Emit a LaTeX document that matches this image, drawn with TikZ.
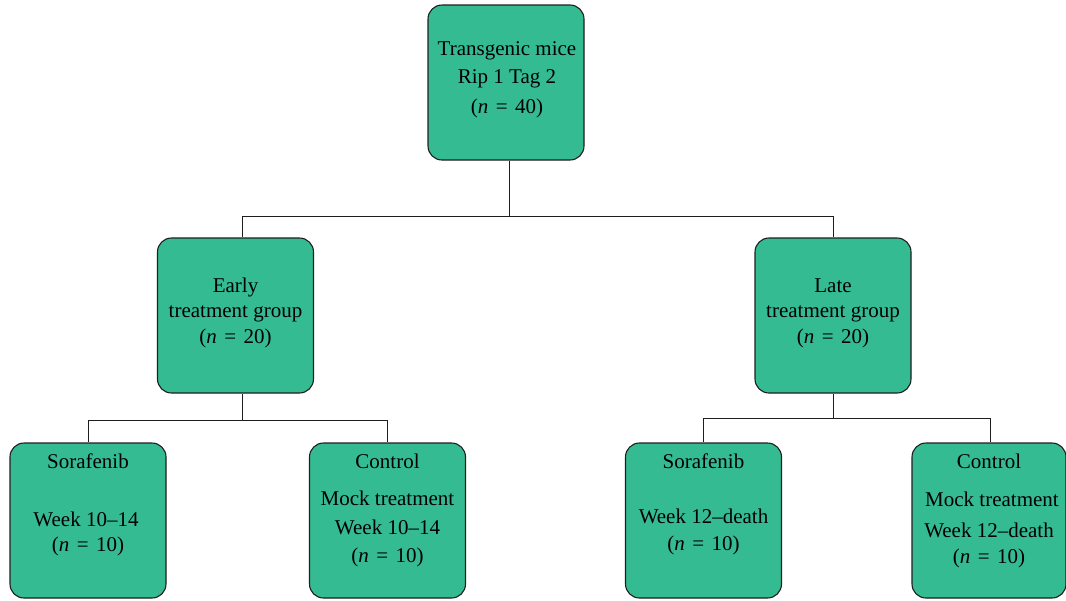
\documentclass[tikz,border=0pt]{standalone}
\usepackage{fontspec}
\setmainfont{Liberation Serif}
\definecolor{boxfill}{RGB}{53,187,146}
\definecolor{edge}{RGB}{30,30,30}
\tikzset{
  box/.style={draw=edge, line width=1.1pt, fill=boxfill, rounded corners=14pt, minimum width=156pt, minimum height=155pt, inner sep=0pt},
  lbl/.style={anchor=base, inner sep=0pt, font=\fontsize{21pt}{25pt}\selectfont, text=black},
  link/.style={draw=edge, line width=1pt}
}
\newcommand{\nn}[1]{(\textit{n}\kern0.35em=\kern0.35em#1)}
\begin{document}
\begin{tikzpicture}[x=1pt,y=-1pt]
\useasboundingbox (0,0) rectangle (1066,600);
% boxes
\node[box] (top) at (506,82.5) {};
\node[box] (early) at (235.5,315.5) {};
\node[box] (late) at (833,315.5) {};
\node[box] (s1) at (88,520.5) {};
\node[box] (c1) at (387.5,520.5) {};
\node[box] (s2) at (703.5,520.5) {};
\node[box, minimum width=154pt] (c2) at (989,520.5) {};
% connectors
\coordinate (j0) at (509,216);
\coordinate (j0l) at (242,216);
\coordinate (j0r) at (833,216);
\draw[link] (509,0 |- top.south) -- (j0);
\draw[link] (j0l) -- (j0r);
\draw[link] (j0l) -- (242,0 |- early.north);
\draw[link] (j0r) -- (833,0 |- late.north);
\coordinate (j1) at (242,420);
\coordinate (j1l) at (88,420);
\coordinate (j1r) at (387.5,420);
\draw[link] (242,0 |- early.south) -- (j1);
\draw[link] (j1l) -- (j1r);
\draw[link] (j1l) -- (s1.north);
\draw[link] (j1r) -- (c1.north);
\coordinate (j2) at (833,418);
\coordinate (j2l) at (703.5,418);
\coordinate (j2r) at (990,418);
\draw[link] (late.south) -- (j2);
\draw[link] (j2l) -- (j2r);
\draw[link] (j2l) -- (s2.north);
\draw[link] (j2r) -- (990,0 |- c2.north);
% labels
\node[lbl] (t1) at (507,55) {Transgenic mice};
\node[lbl] (t2) at (507,83) {Rip 1 Tag 2};
\node[lbl] (t3) at (507,113) {\nn{40}};
\node[lbl] (e1) at (235.5,292) {Early};
\node[lbl] (e2) at (235.5,317) {treatment group};
\node[lbl] (e3) at (235.5,343) {\nn{20}};
\node[lbl] (l1) at (833,292) {Late};
\node[lbl] (l2) at (833,317) {treatment group};
\node[lbl] (l3) at (833,343) {\nn{20}};
\node[lbl] (s1a) at (88,468) {Sorafenib};
\node[lbl] (s1b) at (86,526) {Week 10--14};
\node[lbl] (s1c) at (88,551) {\nn{10}};
\node[lbl] (c1a) at (387.5,468) {Control};
\node[lbl] (c1b) at (387.5,505) {Mock treatment};
\node[lbl] (c1c) at (387.5,534) {Week 10--14};
\node[lbl] (c1d) at (387.5,562) {\nn{10}};
\node[lbl] (s2a) at (703.5,468) {Sorafenib};
\node[lbl] (s2b) at (703.5,523) {Week 12--death};
\node[lbl] (s2c) at (703.5,550) {\nn{10}};
\node[lbl] (c2a) at (989,468) {Control};
\node[lbl] (c2b) at (992,506) {Mock treatment};
\node[lbl] (c2c) at (989,537) {Week 12--death};
\node[lbl] (c2d) at (989,563) {\nn{10}};
\end{tikzpicture}
\end{document}
